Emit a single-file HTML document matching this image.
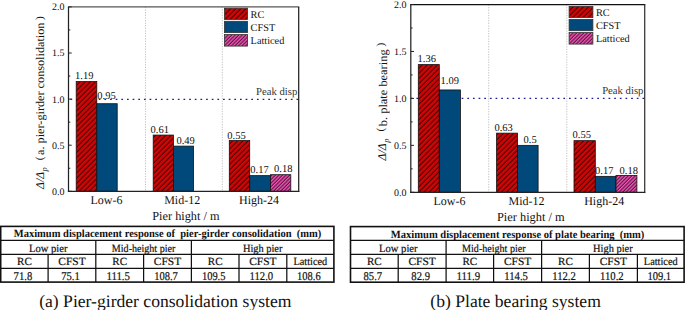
<!DOCTYPE html>
<html><head><meta charset="utf-8"><style>
html,body{margin:0;padding:0;background:#fff;width:685px;height:310px;overflow:hidden}
svg{display:block;font-family:"Liberation Serif",serif}
</style></head><body>
<svg width="685" height="310" viewBox="0 0 685 310" font-family="Liberation Serif, serif" fill="#111" text-rendering="geometricPrecision">
<defs>
<pattern id="hr" patternUnits="userSpaceOnUse" width="3.65" height="3.65" patternTransform="rotate(45)">
<rect width="3.65" height="3.65" fill="#d00606"/><line x1="1.2" y1="-1" x2="1.2" y2="5" stroke="#000" stroke-width="0.72"/></pattern>
<pattern id="hp" patternUnits="userSpaceOnUse" width="2.5" height="2.5" patternTransform="rotate(45)">
<rect width="2.5" height="2.5" fill="#ff52be"/><line x1="1" y1="-1" x2="1" y2="4" stroke="#000" stroke-width="0.8"/></pattern>
</defs>
<rect width="685" height="310" fill="#fff"/>
<line x1="145.5" y1="6.9" x2="145.5" y2="191.3" stroke="#c4c4c4" stroke-width="1" stroke-dasharray="1.3 1.3"/>
<line x1="222.3" y1="6.9" x2="222.3" y2="191.3" stroke="#c4c4c4" stroke-width="1" stroke-dasharray="1.3 1.3"/>
<line x1="68.5" y1="99.4" x2="298.7" y2="99.4" stroke="#1c1c9a" stroke-width="1.2" stroke-dasharray="1.7 3.95" stroke-dashoffset="-2.0"/>
<rect x="76.2" y="81.58" width="20.60" height="109.72" fill="url(#hr)" stroke="#111" stroke-width="0.8"/>
<rect x="96.8" y="103.71" width="20.40" height="87.59" fill="#00497a" stroke="#111" stroke-width="0.8"/>
<rect x="153.2" y="135.06" width="20.20" height="56.24" fill="url(#hr)" stroke="#111" stroke-width="0.8"/>
<rect x="173.4" y="146.12" width="20.10" height="45.18" fill="#00497a" stroke="#111" stroke-width="0.8"/>
<rect x="229.3" y="140.59" width="20.40" height="50.71" fill="url(#hr)" stroke="#111" stroke-width="0.8"/>
<rect x="249.7" y="175.63" width="20.70" height="15.67" fill="#00497a" stroke="#111" stroke-width="0.8"/>
<rect x="270.4" y="174.70" width="20.40" height="16.60" fill="url(#hp)" stroke="#111" stroke-width="0.8"/>
<line x1="67.9" y1="6.9" x2="299.3" y2="6.9" stroke="#555" stroke-width="1.25"/>
<line x1="298.7" y1="6.9" x2="298.7" y2="191.9" stroke="#222" stroke-width="1.25"/>
<line x1="67.9" y1="191.3" x2="299.3" y2="191.3" stroke="#222" stroke-width="1.25"/>
<line x1="68.5" y1="6.9" x2="68.5" y2="191.9" stroke="#222" stroke-width="1.25"/>
<line x1="68.5" y1="191.30" x2="71.7" y2="191.30" stroke="#222" stroke-width="1"/>
<line x1="68.5" y1="168.25" x2="70.3" y2="168.25" stroke="#222" stroke-width="1"/>
<line x1="68.5" y1="145.20" x2="71.7" y2="145.20" stroke="#222" stroke-width="1"/>
<line x1="68.5" y1="122.15" x2="70.3" y2="122.15" stroke="#222" stroke-width="1"/>
<line x1="68.5" y1="99.10" x2="71.7" y2="99.10" stroke="#222" stroke-width="1"/>
<line x1="68.5" y1="76.05" x2="70.3" y2="76.05" stroke="#222" stroke-width="1"/>
<line x1="68.5" y1="53.00" x2="71.7" y2="53.00" stroke="#222" stroke-width="1"/>
<line x1="68.5" y1="29.95" x2="70.3" y2="29.95" stroke="#222" stroke-width="1"/>
<line x1="68.5" y1="6.90" x2="71.7" y2="6.90" stroke="#222" stroke-width="1"/>
<text x="64.6" y="194.70" text-anchor="end" font-size="10">0.0</text>
<text x="64.6" y="148.60" text-anchor="end" font-size="10">0.5</text>
<text x="64.6" y="102.50" text-anchor="end" font-size="10">1.0</text>
<text x="64.6" y="56.40" text-anchor="end" font-size="10">1.5</text>
<text x="64.6" y="10.30" text-anchor="end" font-size="10">2.0</text>
<text x="75.0" y="79.2" font-size="10.5">1.19</text>
<text x="97.3" y="98.9" font-size="10.5">0.95</text>
<text x="150.6" y="132.6" font-size="10.5">0.61</text>
<text x="176.4" y="143.9" font-size="10.5">0.49</text>
<text x="227.3" y="138.7" font-size="10.5">0.55</text>
<text x="250.3" y="173.3" font-size="10.5">0.17</text>
<text x="274.1" y="172.1" font-size="10.5">0.18</text>
<rect x="224.4" y="8.2" width="23.20" height="11.30" fill="url(#hr)" stroke="#333" stroke-width="0.8"/>
<text x="250.6" y="18.1" font-size="10.3">RC</text>
<rect x="224.4" y="21.3" width="23.20" height="11.30" fill="#00497a" stroke="#333" stroke-width="0.8"/>
<text x="250.6" y="31.1" font-size="10.3">CFST</text>
<rect x="224.4" y="34.5" width="23.20" height="11.60" fill="url(#hp)" stroke="#333" stroke-width="0.8"/>
<text x="250.6" y="44.2" font-size="10.3">Latticed</text>
<text x="297.3" y="94.7" font-size="10.7" fill="#333" text-anchor="end">Peak disp</text>
<text x="106.4" y="204.2" font-size="12" text-anchor="middle">Low-6</text>
<text x="182.2" y="204.2" font-size="12" text-anchor="middle">Mid-12</text>
<text x="259.1" y="204.2" font-size="12" text-anchor="middle">High-24</text>
<text x="185.9" y="220.0" font-size="12.3" text-anchor="middle">Pier hight / m</text>
<text transform="translate(43.8,188.9) rotate(-90)" font-size="11.8" font-style="italic">&#916;/&#916;</text>
<text transform="translate(47.0,171.4) rotate(-90)" font-size="8.3" font-style="italic">p</text>
<text transform="translate(42.6,160.3) rotate(-90)" font-size="11">(</text>
<text transform="translate(44.0,154.9) rotate(-90)" font-size="11.8" textLength="132.30" lengthAdjust="spacingAndGlyphs">a. pier-girder consolidation</text>
<text transform="translate(42.8,20.0) rotate(-90)" font-size="11">)</text>
<line x1="488.7" y1="4.5" x2="488.7" y2="192.3" stroke="#c4c4c4" stroke-width="1" stroke-dasharray="1.3 1.3"/>
<line x1="566.8" y1="4.5" x2="566.8" y2="192.3" stroke="#c4c4c4" stroke-width="1" stroke-dasharray="1.3 1.3"/>
<line x1="410.8" y1="98.4" x2="644.7" y2="98.4" stroke="#1c1c9a" stroke-width="1.2" stroke-dasharray="1.7 3.95" stroke-dashoffset="0"/>
<rect x="418.3" y="64.60" width="21.00" height="127.70" fill="url(#hr)" stroke="#111" stroke-width="0.8"/>
<rect x="439.3" y="89.95" width="21.10" height="102.35" fill="#00497a" stroke="#111" stroke-width="0.8"/>
<rect x="496.6" y="133.14" width="20.90" height="59.16" fill="url(#hr)" stroke="#111" stroke-width="0.8"/>
<rect x="517.5" y="145.35" width="20.60" height="46.95" fill="#00497a" stroke="#111" stroke-width="0.8"/>
<rect x="574.0" y="140.66" width="21.30" height="51.65" fill="url(#hr)" stroke="#111" stroke-width="0.8"/>
<rect x="595.3" y="176.34" width="20.70" height="15.96" fill="#00497a" stroke="#111" stroke-width="0.8"/>
<rect x="616.0" y="175.40" width="20.90" height="16.90" fill="url(#hp)" stroke="#111" stroke-width="0.8"/>
<line x1="410.2" y1="4.5" x2="645.3000000000001" y2="4.5" stroke="#111" stroke-width="1.25"/>
<line x1="644.7" y1="4.5" x2="644.7" y2="192.9" stroke="#333" stroke-width="1.25"/>
<line x1="410.2" y1="192.3" x2="645.3000000000001" y2="192.3" stroke="#222" stroke-width="1.25"/>
<line x1="410.8" y1="4.5" x2="410.8" y2="192.9" stroke="#222" stroke-width="1.25"/>
<line x1="410.8" y1="192.30" x2="414.0" y2="192.30" stroke="#222" stroke-width="1"/>
<line x1="410.8" y1="168.83" x2="412.6" y2="168.83" stroke="#222" stroke-width="1"/>
<line x1="410.8" y1="145.35" x2="414.0" y2="145.35" stroke="#222" stroke-width="1"/>
<line x1="410.8" y1="121.88" x2="412.6" y2="121.88" stroke="#222" stroke-width="1"/>
<line x1="410.8" y1="98.40" x2="414.0" y2="98.40" stroke="#222" stroke-width="1"/>
<line x1="410.8" y1="74.93" x2="412.6" y2="74.93" stroke="#222" stroke-width="1"/>
<line x1="410.8" y1="51.45" x2="414.0" y2="51.45" stroke="#222" stroke-width="1"/>
<line x1="410.8" y1="27.97" x2="412.6" y2="27.97" stroke="#222" stroke-width="1"/>
<line x1="410.8" y1="4.50" x2="414.0" y2="4.50" stroke="#222" stroke-width="1"/>
<text x="406.6" y="195.70" text-anchor="end" font-size="10">0.0</text>
<text x="406.6" y="148.75" text-anchor="end" font-size="10">0.5</text>
<text x="406.6" y="101.80" text-anchor="end" font-size="10">1.0</text>
<text x="406.6" y="54.85" text-anchor="end" font-size="10">1.5</text>
<text x="406.6" y="7.90" text-anchor="end" font-size="10">2.0</text>
<text x="417.6" y="62.1" font-size="10.5">1.36</text>
<text x="440.6" y="84.3" font-size="10.5">1.09</text>
<text x="494.4" y="130.5" font-size="10.5">0.63</text>
<text x="523.5" y="142.7" font-size="10.5">0.5</text>
<text x="572.5" y="138.4" font-size="10.5">0.55</text>
<text x="595.1" y="174.3" font-size="10.5">0.17</text>
<text x="619.6" y="173.6" font-size="10.5">0.18</text>
<rect x="569.1" y="6.4" width="23.80" height="11.20" fill="url(#hr)" stroke="#333" stroke-width="0.8"/>
<text x="596.0" y="16.3" font-size="10.3">RC</text>
<rect x="569.1" y="19.4" width="23.80" height="11.30" fill="#00497a" stroke="#333" stroke-width="0.8"/>
<text x="596.0" y="29.3" font-size="10.3">CFST</text>
<rect x="569.1" y="32.5" width="23.80" height="11.60" fill="url(#hp)" stroke="#333" stroke-width="0.8"/>
<text x="596.0" y="42.4" font-size="10.3">Latticed</text>
<text x="643.4" y="94.0" font-size="10.7" fill="#333" text-anchor="end">Peak disp</text>
<text x="449.4" y="205.1" font-size="12" text-anchor="middle">Low-6</text>
<text x="526.5" y="205.1" font-size="12" text-anchor="middle">Mid-12</text>
<text x="604.2" y="205.1" font-size="12" text-anchor="middle">High-24</text>
<text x="530.8" y="220.5" font-size="12.4" text-anchor="middle">Pier hight / m</text>
<text transform="translate(386.3,160.5) rotate(-90)" font-size="11.8" font-style="italic">&#916;/&#916;</text>
<text transform="translate(388.6,142.8) rotate(-90)" font-size="8.3" font-style="italic">p</text>
<text transform="translate(384.4,131.5) rotate(-90)" font-size="11">(</text>
<text transform="translate(386.6,126.2) rotate(-90)" font-size="11.8" textLength="76.80" lengthAdjust="spacingAndGlyphs">b. plate bearing</text>
<text transform="translate(384.4,46.6) rotate(-90)" font-size="11">)</text>
<rect x="0.7" y="226.4" width="333.20" height="55.70" fill="none" stroke="#111" stroke-width="1.6"/>
<line x1="0.7" y1="240.3" x2="333.9" y2="240.3" stroke="#111" stroke-width="1.25"/>
<line x1="0.7" y1="254.35" x2="333.9" y2="254.35" stroke="#111" stroke-width="1.25"/>
<line x1="0.7" y1="268.3" x2="333.9" y2="268.3" stroke="#111" stroke-width="1.25"/>
<line x1="95.8" y1="240.3" x2="95.8" y2="282.1" stroke="#111" stroke-width="1.25"/>
<line x1="191.4" y1="240.3" x2="191.4" y2="282.1" stroke="#111" stroke-width="1.25"/>
<line x1="48.1" y1="254.35" x2="48.1" y2="282.1" stroke="#111" stroke-width="1.25"/>
<line x1="143.6" y1="254.35" x2="143.6" y2="282.1" stroke="#111" stroke-width="1.25"/>
<line x1="239.0" y1="254.35" x2="239.0" y2="282.1" stroke="#111" stroke-width="1.25"/>
<line x1="286.8" y1="254.35" x2="286.8" y2="282.1" stroke="#111" stroke-width="1.25"/>
<text x="167.5" y="237.4" font-weight="bold" font-size="11" text-anchor="middle" textLength="307.5" lengthAdjust="spacingAndGlyphs" xml:space="preserve">Maximum displacement response of  pier-girder consolidation  (mm)</text>
<text x="48.25" y="251.5" font-size="11" stroke="#111" stroke-width="0.2" text-anchor="middle" textLength="38.5" lengthAdjust="spacingAndGlyphs">Low pier</text>
<text x="143.60" y="251.5" font-size="11" stroke="#111" stroke-width="0.2" text-anchor="middle" textLength="63.5" lengthAdjust="spacingAndGlyphs">Mid-height pier</text>
<text x="262.65" y="251.5" font-size="11" stroke="#111" stroke-width="0.2" text-anchor="middle" textLength="39.5" lengthAdjust="spacingAndGlyphs">High pier</text>
<text x="24.40" y="265.2" font-size="11" stroke="#111" stroke-width="0.2" text-anchor="middle" textLength="14.8" lengthAdjust="spacingAndGlyphs">RC</text>
<text x="71.95" y="265.2" font-size="11" stroke="#111" stroke-width="0.2" text-anchor="middle" textLength="27.4" lengthAdjust="spacingAndGlyphs">CFST</text>
<text x="119.70" y="265.2" font-size="11" stroke="#111" stroke-width="0.2" text-anchor="middle" textLength="14.8" lengthAdjust="spacingAndGlyphs">RC</text>
<text x="167.50" y="265.2" font-size="11" stroke="#111" stroke-width="0.2" text-anchor="middle" textLength="27.4" lengthAdjust="spacingAndGlyphs">CFST</text>
<text x="215.20" y="265.2" font-size="11" stroke="#111" stroke-width="0.2" text-anchor="middle" textLength="14.8" lengthAdjust="spacingAndGlyphs">RC</text>
<text x="262.90" y="265.2" font-size="11" stroke="#111" stroke-width="0.2" text-anchor="middle" textLength="27.4" lengthAdjust="spacingAndGlyphs">CFST</text>
<text x="310.35" y="265.2" font-size="11" stroke="#111" stroke-width="0.2" text-anchor="middle" textLength="33.8" lengthAdjust="spacingAndGlyphs">Latticed</text>
<text x="22.90" y="279.8" font-size="11.9" stroke="#111" stroke-width="0.2" text-anchor="middle" textLength="18.6" lengthAdjust="spacingAndGlyphs">71.8</text>
<text x="70.45" y="279.8" font-size="11.9" stroke="#111" stroke-width="0.2" text-anchor="middle" textLength="18.6" lengthAdjust="spacingAndGlyphs">75.1</text>
<text x="118.20" y="279.8" font-size="11.9" stroke="#111" stroke-width="0.2" text-anchor="middle" textLength="23.6" lengthAdjust="spacingAndGlyphs">111.5</text>
<text x="166.00" y="279.8" font-size="11.9" stroke="#111" stroke-width="0.2" text-anchor="middle" textLength="23.6" lengthAdjust="spacingAndGlyphs">108.7</text>
<text x="213.70" y="279.8" font-size="11.9" stroke="#111" stroke-width="0.2" text-anchor="middle" textLength="23.6" lengthAdjust="spacingAndGlyphs">109.5</text>
<text x="261.40" y="279.8" font-size="11.9" stroke="#111" stroke-width="0.2" text-anchor="middle" textLength="23.6" lengthAdjust="spacingAndGlyphs">112.0</text>
<text x="308.85" y="279.8" font-size="11.9" stroke="#111" stroke-width="0.2" text-anchor="middle" textLength="23.6" lengthAdjust="spacingAndGlyphs">108.6</text>
<rect x="350.5" y="226.6" width="333.60" height="55.60" fill="none" stroke="#111" stroke-width="1.6"/>
<line x1="350.5" y1="240.3" x2="684.1" y2="240.3" stroke="#111" stroke-width="1.25"/>
<line x1="350.5" y1="254.4" x2="684.1" y2="254.4" stroke="#111" stroke-width="1.25"/>
<line x1="350.5" y1="268.3" x2="684.1" y2="268.3" stroke="#111" stroke-width="1.25"/>
<line x1="446.1" y1="240.3" x2="446.1" y2="282.2" stroke="#111" stroke-width="1.25"/>
<line x1="541.6" y1="240.3" x2="541.6" y2="282.2" stroke="#111" stroke-width="1.25"/>
<line x1="398.2" y1="254.4" x2="398.2" y2="282.2" stroke="#111" stroke-width="1.25"/>
<line x1="493.6" y1="254.4" x2="493.6" y2="282.2" stroke="#111" stroke-width="1.25"/>
<line x1="589.4" y1="254.4" x2="589.4" y2="282.2" stroke="#111" stroke-width="1.25"/>
<line x1="637.4" y1="254.4" x2="637.4" y2="282.2" stroke="#111" stroke-width="1.25"/>
<text x="517.6" y="237.6" font-weight="bold" font-size="11" text-anchor="middle" textLength="253.5" lengthAdjust="spacingAndGlyphs" xml:space="preserve">Maximum displacement response of plate bearing  (mm)</text>
<text x="398.30" y="251.5" font-size="11" stroke="#111" stroke-width="0.2" text-anchor="middle" textLength="38.5" lengthAdjust="spacingAndGlyphs">Low pier</text>
<text x="493.85" y="251.5" font-size="11" stroke="#111" stroke-width="0.2" text-anchor="middle" textLength="63.5" lengthAdjust="spacingAndGlyphs">Mid-height pier</text>
<text x="612.85" y="251.5" font-size="11" stroke="#111" stroke-width="0.2" text-anchor="middle" textLength="39.5" lengthAdjust="spacingAndGlyphs">High pier</text>
<text x="374.35" y="265.2" font-size="11" stroke="#111" stroke-width="0.2" text-anchor="middle" textLength="14.8" lengthAdjust="spacingAndGlyphs">RC</text>
<text x="422.15" y="265.2" font-size="11" stroke="#111" stroke-width="0.2" text-anchor="middle" textLength="27.4" lengthAdjust="spacingAndGlyphs">CFST</text>
<text x="469.85" y="265.2" font-size="11" stroke="#111" stroke-width="0.2" text-anchor="middle" textLength="14.8" lengthAdjust="spacingAndGlyphs">RC</text>
<text x="517.60" y="265.2" font-size="11" stroke="#111" stroke-width="0.2" text-anchor="middle" textLength="27.4" lengthAdjust="spacingAndGlyphs">CFST</text>
<text x="565.50" y="265.2" font-size="11" stroke="#111" stroke-width="0.2" text-anchor="middle" textLength="14.8" lengthAdjust="spacingAndGlyphs">RC</text>
<text x="613.40" y="265.2" font-size="11" stroke="#111" stroke-width="0.2" text-anchor="middle" textLength="27.4" lengthAdjust="spacingAndGlyphs">CFST</text>
<text x="660.75" y="265.2" font-size="11" stroke="#111" stroke-width="0.2" text-anchor="middle" textLength="33.8" lengthAdjust="spacingAndGlyphs">Latticed</text>
<text x="372.85" y="279.8" font-size="11.9" stroke="#111" stroke-width="0.2" text-anchor="middle" textLength="18.6" lengthAdjust="spacingAndGlyphs">85.7</text>
<text x="420.65" y="279.8" font-size="11.9" stroke="#111" stroke-width="0.2" text-anchor="middle" textLength="18.6" lengthAdjust="spacingAndGlyphs">82.9</text>
<text x="468.35" y="279.8" font-size="11.9" stroke="#111" stroke-width="0.2" text-anchor="middle" textLength="23.6" lengthAdjust="spacingAndGlyphs">111.9</text>
<text x="516.10" y="279.8" font-size="11.9" stroke="#111" stroke-width="0.2" text-anchor="middle" textLength="23.6" lengthAdjust="spacingAndGlyphs">114.5</text>
<text x="564.00" y="279.8" font-size="11.9" stroke="#111" stroke-width="0.2" text-anchor="middle" textLength="23.6" lengthAdjust="spacingAndGlyphs">112.2</text>
<text x="611.90" y="279.8" font-size="11.9" stroke="#111" stroke-width="0.2" text-anchor="middle" textLength="23.6" lengthAdjust="spacingAndGlyphs">110.2</text>
<text x="659.25" y="279.8" font-size="11.9" stroke="#111" stroke-width="0.2" text-anchor="middle" textLength="23.6" lengthAdjust="spacingAndGlyphs">109.1</text>
<text x="39.2" y="306.6" font-size="17.6">(a) Pier-girder consolidation system</text>
<text x="430.3" y="306.6" font-size="17.6">(b) Plate bearing system</text>
</svg>
</body></html>
